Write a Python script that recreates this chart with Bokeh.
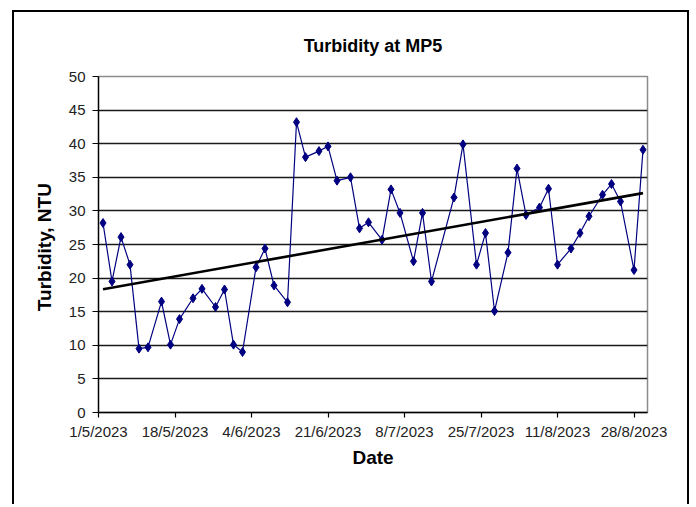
import numpy as np
import pandas as pd
from bokeh.plotting import figure
from bokeh.models import Range1d, FixedTicker
from bokeh.embed import file_html
from bokeh.resources import INLINE

# ---------------- data ----------------
dates = ["2023-05-02", "2023-05-04", "2023-05-06", "2023-05-08", "2023-05-10", "2023-05-12",
         "2023-05-15", "2023-05-17", "2023-05-19", "2023-05-22", "2023-05-24", "2023-05-27",
         "2023-05-29", "2023-05-31", "2023-06-02", "2023-06-05", "2023-06-07", "2023-06-09",
         "2023-06-12", "2023-06-14", "2023-06-16", "2023-06-19", "2023-06-21", "2023-06-23",
         "2023-06-26", "2023-06-28", "2023-06-30", "2023-07-03", "2023-07-05", "2023-07-07",
         "2023-07-10", "2023-07-12", "2023-07-14", "2023-07-19", "2023-07-21", "2023-07-24",
         "2023-07-26", "2023-07-28", "2023-07-31", "2023-08-02", "2023-08-04", "2023-08-07",
         "2023-08-09", "2023-08-11", "2023-08-14", "2023-08-16", "2023-08-18", "2023-08-21",
         "2023-08-23", "2023-08-25", "2023-08-28", "2023-08-30"]
turbidity = [28.2, 19.5, 26.1, 22.0, 9.5, 9.7,
             16.5, 10.1, 13.9, 17.0, 18.4, 15.7,
             18.3, 10.1, 9.0, 21.6, 24.4, 18.9,
             16.4, 43.2, 38.0, 38.9, 39.6, 34.5,
             35.0, 27.4, 28.3, 25.7, 33.2, 29.7,
             22.5, 29.7, 19.5, 32.0, 39.9, 22.0,
             26.7, 15.1, 23.8, 36.3, 29.4, 30.5,
             33.3, 22.0, 24.4, 26.7, 29.2, 32.4,
             34.0, 31.4, 21.2, 39.1]
x_tick_dates = ["2023-05-01", "2023-05-18", "2023-06-04", "2023-06-21",
                "2023-07-08", "2023-07-25", "2023-08-11", "2023-08-28"]
x_tick_labels = ["1/5/2023", "18/5/2023", "4/6/2023", "21/6/2023",
                 "8/7/2023", "25/7/2023", "11/8/2023", "28/8/2023"]
y_ticks = [0, 5, 10, 15, 20, 25, 30, 35, 40, 45, 50]
x_start, x_end = "2023-05-01", "2023-08-31"
title_text = "Turbidity at MP5"
x_label = "Date"
y_label = "Turbidity,  NTU"


def to_ms(vals):
    return pd.to_datetime(vals).values.astype("datetime64[ms]").astype("int64").astype(float)


x_ms = to_ms(dates)
tick_ms = to_ms(x_tick_dates)
start_ms, end_ms = to_ms([x_start, x_end])

# linear trend (fit on days)
days = (x_ms - x_ms[0]) / 86400000.0
slope, intercept = np.polyfit(days, np.array(turbidity), 1)
trend_x = [x_ms[0], x_ms[-1]]
trend_y = [intercept, intercept + slope * days[-1]]

FONT = "Liberation Sans"

p = figure(width=677, height=494, x_axis_type="datetime",
           x_range=Range1d(start_ms, end_ms), y_range=Range1d(0, 50),
           output_backend="svg", toolbar_location=None, title=title_text,
           min_border_left=84, min_border_right=44, min_border_top=64, min_border_bottom=94)
p.styles = {"border-left": "2px solid black", "border-top": "2px solid black",
            "border-right": "2px solid black", "margin-left": "12px", "margin-top": "10px"}

p.background_fill_color = "white"
p.border_fill_color = "white"
p.outline_line_color = "#8c8c8c"
p.outline_line_width = 1.5

p.title.align = "center"
p.title.text_font = FONT
p.title.text_font_size = "18px"
p.title.text_font_style = "bold"
p.title.text_color = "black"
p.title.standoff = 41

# grid
p.xgrid.grid_line_color = None
p.ygrid.ticker = FixedTicker(ticks=y_ticks)
p.ygrid.grid_line_color = "#1a1a1a"
p.ygrid.grid_line_width = 1.3

# axes
xa = p.xaxis[0]
xa.ticker = FixedTicker(ticks=list(tick_ms))
xa.major_label_overrides = {float(t): lab for t, lab in zip(tick_ms, x_tick_labels)}
ya = p.yaxis[0]
ya.ticker = FixedTicker(ticks=y_ticks)

for ax in (xa, ya):
    ax.axis_line_color = "black"
    ax.axis_line_width = 1.3
    ax.major_tick_line_color = "black"
    ax.major_tick_line_width = 1.2
    ax.major_tick_in = 0
    ax.minor_tick_line_color = None
    ax.major_label_text_font = FONT
    ax.major_label_text_font_size = "15px"
    ax.major_label_text_color = "#222222"
    ax.axis_label_text_font = FONT
    ax.axis_label_text_font_size = "19px"
    ax.axis_label_text_font_style = "bold"
    ax.axis_label_text_color = "black"

xa.axis_label = x_label
xa.major_tick_out = 5
xa.major_label_standoff = 5
xa.axis_label_standoff = 4
ya.axis_label = y_label
ya.major_tick_out = 6
ya.major_label_standoff = 7
ya.axis_label_standoff = 11

# series
p.line(x_ms, turbidity, line_color="#000080", line_width=1.2)
p.scatter(x_ms, turbidity, marker="diamond", size=9, fill_color="#000080", line_color="#000080")
# trend line
p.line(trend_x, trend_y, line_color="black", line_width=2.6)

open("out.html", "w").write(file_html(p, INLINE))
